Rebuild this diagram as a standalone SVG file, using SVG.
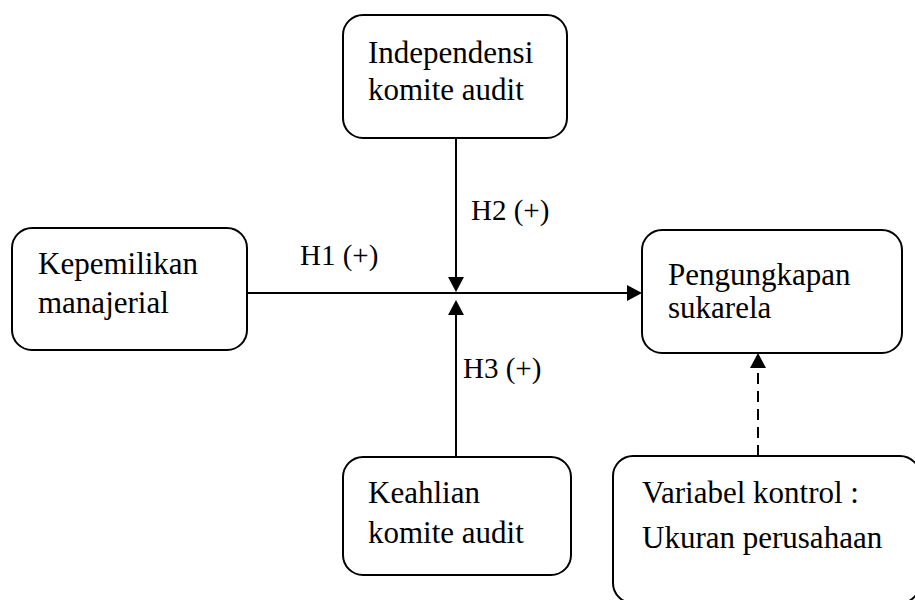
<svg xmlns="http://www.w3.org/2000/svg" width="915" height="600" viewBox="0 0 915 600">
<style>
.box{fill:#fff;stroke:#000;stroke-width:2}
.t{font-family:"Liberation Serif","Times New Roman",serif;font-size:31px;fill:#000}
.l{font-family:"Liberation Serif","Times New Roman",serif;font-size:29px;fill:#000}
.c{stroke:#000;stroke-width:2;fill:none}
.d{stroke-dasharray:11 7}
</style>
<defs>
<marker id="ah" markerUnits="userSpaceOnUse" markerWidth="15" markerHeight="16" refX="2" refY="8" orient="auto" viewBox="0 0 15 16">
<path d="M0,0 L15,8 L0,16 Z" fill="#000"/>
</marker>
</defs>
<rect width="915" height="600" fill="#fff"/>
<g id="connectors">
<line class="c" x1="456" y1="138" x2="456" y2="279" marker-end="url(#ah)"/>
<line class="c" x1="456" y1="457" x2="456" y2="313" marker-end="url(#ah)"/>
<line class="c" x1="247" y1="293" x2="629" y2="293" marker-end="url(#ah)"/>
<line class="c d" x1="758" y1="456" x2="758" y2="366" marker-end="url(#ah)"/>
<text class="l" x="300" y="265">H1 (+)</text>
<text class="l" x="471" y="220">H2 (+)</text>
<text class="l" x="463" y="378">H3 (+)</text>
</g>
<g id="independensi">
<rect class="box" x="343" y="15" width="224" height="123" rx="20"/>
<text class="t" x="368" y="63">Independensi</text>
<text class="t" x="368" y="100">komite audit</text>
</g>
<g id="kepemilikan">
<rect class="box" x="12" y="228" width="235" height="122" rx="20"/>
<text class="t" x="38" y="274">Kepemilikan</text>
<text class="t" x="38" y="313">manajerial</text>
</g>
<g id="pengungkapan">
<rect class="box" x="642" y="230" width="260" height="123" rx="20"/>
<text class="t" x="668" y="285">Pengungkapan</text>
<text class="t" x="668" y="318">sukarela</text>
</g>
<g id="keahlian">
<rect class="box" x="343" y="457" width="228" height="118" rx="20"/>
<text class="t" x="368" y="503">Keahlian</text>
<text class="t" x="368" y="543">komite audit</text>
</g>
<g id="variabel">
<rect class="box" x="613" y="456" width="307" height="147" rx="20"/>
<text class="t" x="642" y="503">Variabel kontrol :</text>
<text class="t" x="642" y="548">Ukuran perusahaan</text>
</g>
</svg>
